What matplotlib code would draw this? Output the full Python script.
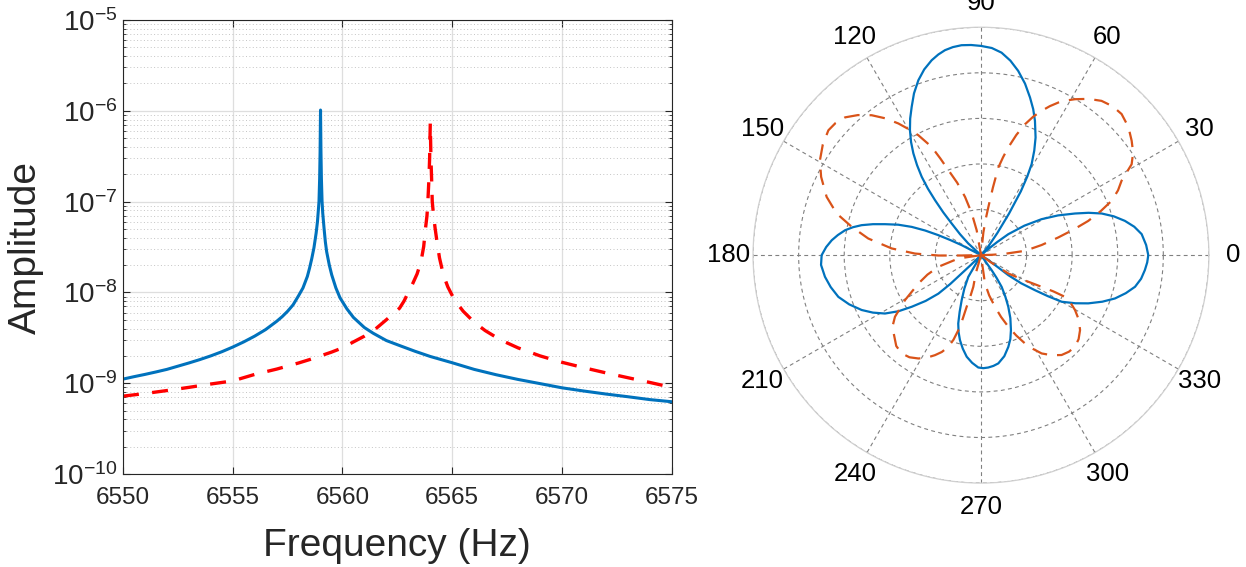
import numpy as np
import matplotlib
matplotlib.use("Agg")
import matplotlib.pyplot as plt
from matplotlib.ticker import LogLocator, NullLocator, FuncFormatter

plt.rcParams["font.family"] = ["Liberation Sans", "DejaVu Sans"]
plt.rcParams["mathtext.fontset"] = "custom"
plt.rcParams["mathtext.rm"] = "Liberation Sans"
plt.rcParams["mathtext.default"] = "regular"

# --- frequency response ---
blue_freq = [6550, 6550.5, 6551, 6551.5, 6552, 6552.5, 6553, 6553.5, 6554,
             6554.5, 6555, 6555.5, 6556, 6556.5, 6557, 6557.25, 6557.5, 6557.75,
             6558, 6558.2, 6558.4, 6558.5, 6558.6, 6558.7, 6558.8, 6558.86,
             6558.9, 6558.93, 6558.96, 6558.98, 6559.0, 6559.02, 6559.04,
             6559.07, 6559.1, 6559.16, 6559.22, 6559.28, 6559.4, 6559.51,
             6559.7, 6559.89, 6560.2, 6560.5, 6561, 6561.4, 6562, 6562.6,
             6563.3, 6564, 6565, 6566, 6567, 6568, 6569, 6570, 6571, 6572,
             6573, 6574, 6575]
blue_amp = [1.11e-9, 1.18e-9, 1.25e-9, 1.33e-9, 1.42e-9, 1.54e-9, 1.67e-9,
            1.82e-9, 2.0e-9, 2.22e-9, 2.5e-9, 2.85e-9, 3.3e-9, 3.9e-9, 4.8e-9,
            5.4e-9, 6.2e-9, 7.3e-9, 9.2e-9, 1.12e-8, 1.5e-8, 1.85e-8, 2.35e-8,
            3.1e-8, 4.5e-8, 6.0e-8, 8.0e-8, 1.0e-7, 1.8e-7, 3.5e-7, 1.02e-6,
            3.5e-7, 1.8e-7, 1.0e-7, 7.5e-8, 5.1e-8, 3.6e-8, 2.8e-8, 2.0e-8,
            1.56e-8, 1.12e-8, 8.7e-9, 6.6e-9, 5.3e-9, 4.1e-9, 3.55e-9, 2.95e-9,
            2.6e-9, 2.25e-9, 1.97e-9, 1.68e-9, 1.42e-9, 1.24e-9, 1.1e-9,
            9.9e-10, 8.9e-10, 8.2e-10, 7.6e-10, 7.1e-10, 6.6e-10, 6.25e-10]

red_freq = [6550, 6551, 6552, 6553, 6554, 6555, 6556, 6557, 6558, 6558.5, 6559,
            6559.5, 6560, 6560.5, 6561, 6561.5, 6562, 6562.3, 6562.6, 6562.8,
            6563, 6563.2, 6563.4, 6563.58, 6563.7, 6563.78, 6563.85, 6563.89,
            6563.94, 6563.97, 6564.0, 6564.03, 6564.06, 6564.09, 6564.15,
            6564.22, 6564.3, 6564.42, 6564.6, 6564.8, 6565.1, 6565.5, 6566,
            6566.5, 6567.2, 6568, 6569, 6570, 6571, 6572, 6573, 6574, 6575]
red_amp = [7.2e-10, 7.7e-10, 8.3e-10, 9.0e-10, 9.8e-10, 1.06e-9, 1.25e-9,
           1.43e-9, 1.67e-9, 1.82e-9, 2.0e-9, 2.2e-9, 2.45e-9, 2.85e-9, 3.3e-9,
           3.95e-9, 5.0e-9, 5.8e-9, 6.7e-9, 8.0e-9, 1.0e-8, 1.25e-8, 1.6e-8,
           2.2e-8, 3.2e-8, 5.0e-8, 7.0e-8, 1.0e-7, 1.8e-7, 3.0e-7, 7.3e-7,
           3.0e-7, 1.8e-7, 1.0e-7, 7.0e-8, 5.1e-8, 3.7e-8, 2.4e-8, 1.55e-8,
           1.15e-8, 8.3e-9, 6.2e-9, 4.7e-9, 3.8e-9, 3.0e-9, 2.45e-9, 2.0e-9,
           1.7e-9, 1.48e-9, 1.3e-9, 1.15e-9, 1.02e-9, 9.0e-10]

x_ticks = [6550, 6555, 6560, 6565, 6570, 6575]

# --- directivity patterns, traced lobe by lobe (deg, normalised radius) ---
blue_theta = [
    # lobe at 0 deg
    -34, -34, -35.5, -36.2, -35, -33, -31.5, -30, -27, -24.2, -21, -17.9,
    -14.7, -11.6, -8.4, -5.2, -2.5, 0, 3.5, 7.45, 10.5, 13.4, 16.3, 19.05,
    21.5, 23.9, 27.3, 30.7, 34.2, 37.5, 39, 40, 45,
    # lobe at 90 deg
    48, 50, 53.5, 56, 58, 59.5, 60.9, 63, 65.1, 68.1, 70.3, 72.7, 75.6, 78.6,
    81.4, 84.2, 87, 90, 92.7, 95.3, 97.7, 99.96, 102, 104.2, 107, 109.7,
    112.5, 115.05, 117.4, 119.6, 121.7, 123.6, 125.4, 127.1, 128.6, 129.9,
    131.4, 132.8, 135, 137.4, 140,
    # lobe at 180 deg
    150, 152.6, 153.8, 154.9, 156.2, 157.8, 159.8, 162.1, 164, 165.9, 167.7,
    169.6, 172, 174.3, 177, 180, 183.5, 187.9, 192, 196.3, 200.5, 204.7, 208,
    211.3, 214.2, 216.7, 219.6, 222.1, 223.2, 223.5, 224, 225,
    # lobe at 270 deg
    237, 239.7, 243.5, 246.8, 249.4, 251.6, 253.8, 256.1, 259, 262.0, 265.3,
    268.6, 271.2, 273.7, 276.4, 279.1, 283, 286.6, 289.3, 291.8, 295, 297.9,
    300.5, 303.1, 304.5, 305.4, 306]
blue_r = [
    0, 0.04, 0.09, 0.149, 0.215, 0.282, 0.345, 0.409, 0.465, 0.516, 0.57,
    0.618, 0.657, 0.690, 0.71, 0.722, 0.73, 0.734, 0.726, 0.711, 0.684, 0.649,
    0.607, 0.560, 0.507, 0.451, 0.38, 0.309, 0.23, 0.151, 0.09, 0.04, 0,
    0, 0.05, 0.12, 0.22, 0.33, 0.40, 0.457, 0.515, 0.569, 0.635, 0.68, 0.724,
    0.777, 0.825, 0.863, 0.893, 0.91, 0.918, 0.923, 0.925, 0.921, 0.913, 0.9,
    0.882, 0.852, 0.815, 0.768, 0.718, 0.675, 0.631, 0.584, 0.536, 0.484,
    0.431, 0.373, 0.314, 0.25, 0.189, 0.13, 0.076, 0,
    0, 0.095, 0.15, 0.207, 0.268, 0.328, 0.387, 0.442, 0.493, 0.540, 0.575,
    0.606, 0.634, 0.658, 0.68, 0.699, 0.703, 0.691, 0.674, 0.652, 0.617,
    0.576, 0.537, 0.493, 0.438, 0.379, 0.315, 0.252, 0.185, 0.117, 0.06, 0,
    0, 0.110, 0.163, 0.215, 0.266, 0.316, 0.352, 0.384, 0.418, 0.450, 0.474,
    0.493, 0.496, 0.494, 0.489, 0.481, 0.455, 0.42, 0.39, 0.354, 0.305,
    0.256, 0.21, 0.166, 0.12, 0.081, 0]

red_theta = [
    # lobe at 45 deg
    0, 2, 3, 5.6, 9.5, 12.9, 15.4, 17.7, 20.2, 22.6, 25.3, 27.9, 31.1, 34,
    37.2, 41, 45.1, 48.5, 52.0, 55.5, 58.9, 61, 63.1, 65.2, 67.2, 69.3, 71.4,
    73.6, 75.8, 77.3, 78.8, 80, 81.3, 82.5, 84, 86,
    # lobe at 135 deg
    98, 99.8, 102.5, 105.3, 108.2, 111.0, 112.8, 114.5, 117.6, 120, 122.1,
    125, 128.0, 131.3, 134.6, 137.7, 140.7, 145, 149.5, 153.9, 159.3, 163.9,
    167.6, 171.6, 175.7, 178.6, 180.5, 181, 182,
    # lobe at 225 deg
    187, 188.4, 195.3, 200, 204.3, 210.6, 215.6, 219, 223.3, 227, 231.1, 235,
    238.8, 242, 245.3, 248, 250.4, 252, 253.2, 254, 254.5, 255.5, 256.4, 255,
    254, 254,
    # lobe at 315 deg
    276, 278, 281.5, 285.2, 288, 290.9, 293.7, 296.5, 299, 301.7, 305.3,
    308.9, 312.3, 315.7, 319.3, 322.9, 326.5, 329.7, 332, 333.6, 333.4, 332.4,
    330, 326.1, 324, 323]
red_r = [
    0, 0.05, 0.10, 0.194, 0.27, 0.348, 0.42, 0.494, 0.56, 0.621, 0.665, 0.698,
    0.772, 0.805, 0.830, 0.857, 0.874, 0.872, 0.859, 0.832, 0.799, 0.776,
    0.751, 0.72, 0.687, 0.65, 0.606, 0.55, 0.487, 0.44, 0.392, 0.3, 0.212,
    0.16, 0.10, 0,
    0, 0.111, 0.19, 0.265, 0.335, 0.40, 0.46, 0.522, 0.594, 0.64, 0.682,
    0.733, 0.779, 0.818, 0.849, 0.862, 0.865, 0.847, 0.82, 0.781, 0.724,
    0.659, 0.581, 0.50, 0.393, 0.29, 0.187, 0.085, 0,
    0, 0.10, 0.194, 0.25, 0.30, 0.387, 0.464, 0.50, 0.522, 0.545, 0.554,
    0.547, 0.530, 0.51, 0.483, 0.458, 0.427, 0.39, 0.344, 0.29, 0.235, 0.19,
    0.143, 0.1, 0.068, 0,
    0, 0.125, 0.18, 0.235, 0.285, 0.336, 0.385, 0.433, 0.47, 0.507, 0.538,
    0.563, 0.573, 0.576, 0.565, 0.545, 0.515, 0.478, 0.445, 0.411, 0.355,
    0.30, 0.22, 0.144, 0.05, 0]

theta_ticks = [0, 30, 60, 90, 120, 150, 180, 210, 240, 270, 300, 330]

fig = plt.figure(figsize=(12.46, 5.67), dpi=100)

# left: amplitude spectrum
ax = fig.add_axes([0.0987, 0.164, 0.4404, 0.8007])
ax.plot(blue_freq, blue_amp, color="#0072BD", lw=2.2)
ax.plot(red_freq, red_amp, color="#FF0000", lw=2.4, dashes=(4.8, 4.0))
ax.set_yscale("log")
ax.set_xlim(6550, 6575)
ax.set_ylim(1e-10, 1e-5)
ax.set_xticks(x_ticks)
ax.xaxis.set_minor_locator(NullLocator())
ax.yaxis.set_major_locator(LogLocator(base=10, numticks=10))
ax.yaxis.set_minor_locator(LogLocator(base=10, subs=np.arange(2, 10), numticks=20))
ax.yaxis.set_major_formatter(FuncFormatter(
    lambda v, p: r"$\mathdefault{10^{%d}}$" % round(np.log10(v))))
ax.grid(which="major", color="#dedede", lw=0.9)
ax.grid(which="minor", axis="y", color="#c4c4c4", lw=0.7, linestyle=(0, (1, 2.5)))
ax.set_axisbelow(True)
ax.tick_params(which="both", direction="in", top=True, right=True,
               colors="#262626", labelsize=17.5)
ax.tick_params(axis="y", labelsize=20, pad=4)
ax.tick_params(which="major", length=5, width=0.8)
ax.tick_params(which="minor", length=2.5, width=0.6)
ax.tick_params(axis="x", pad=9)
for s in ax.spines.values():
    s.set_color("#262626")
    s.set_linewidth(0.8)
ax.set_xlabel("Frequency (Hz)", fontsize=28, color="#262626", labelpad=14)
ax.set_ylabel("Amplitude", fontsize=28, color="#262626", labelpad=6)

# right: polar pattern
pax = fig.add_axes([0.6043, 0.148, 0.366, 0.804], projection="polar")
pax.plot(np.deg2rad(blue_theta), blue_r, color="#0072BD", lw=1.6)
pax.plot(np.deg2rad(red_theta), red_r, color="#D95319", lw=1.6, dashes=(7, 4.5))
pax.set_ylim(0, 1)
pax.set_rticks([0.2, 0.4, 0.6, 0.8, 1.0])
pax.set_yticklabels([])
pax.set_thetagrids(theta_ticks, [str(t) for t in theta_ticks])
pax.grid(True, color="#808080", lw=0.8, linestyle=(0, (3.5, 3)))
pax.spines["polar"].set_color("#d0d0d0")
pax.spines["polar"].set_linewidth(0.9)
pax.tick_params(axis="x", labelsize=18.5, pad=7, colors="black")
pax.tick_params(axis="y", length=0)

fig.savefig("out.png", dpi=100)
